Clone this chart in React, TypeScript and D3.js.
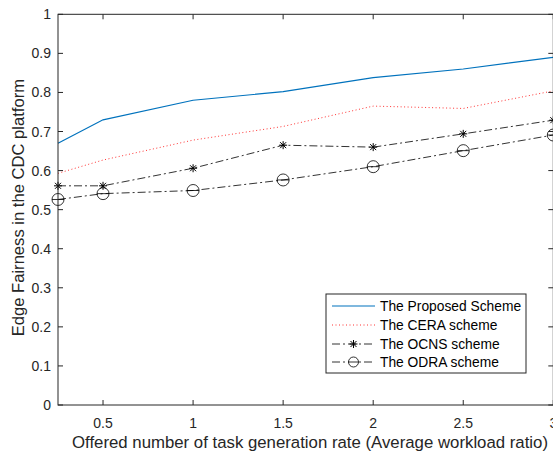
import React from "react";
import * as d3 from "d3";

const xs = [0.25, 0.5, 1, 1.5, 2, 2.5, 3];
const proposed = [0.67, 0.73, 0.78, 0.802, 0.838, 0.86, 0.89];
const cera = [0.593, 0.627, 0.678, 0.713, 0.765, 0.759, 0.804];
const ocns = [0.561, 0.561, 0.606, 0.665, 0.66, 0.694, 0.729];
const odra = [0.526, 0.541, 0.549, 0.576, 0.61, 0.651, 0.691];
const xTicks = [0.5, 1, 1.5, 2, 2.5, 3];
const yTicks = [0, 0.1, 0.2, 0.3, 0.4, 0.5, 0.6, 0.7, 0.8, 0.9, 1];
const legendNames = ["The Proposed Scheme", "The CERA scheme", "The OCNS scheme", "The ODRA scheme"];

const W = 553;
const H = 457;
const axisColor = "#262626";
const font = "'Liberation Sans', Arial, sans-serif";

const App = () => {
  const x = d3.scaleLinear().domain([0.25, 3]).range([58, 553.3]);
  const y = d3.scaleLinear().domain([0, 1]).range([405, 14.3]);
  const line = (vals: number[]) =>
    d3.line<number>().x((_, i) => x(xs[i])).y((d) => y(d))(vals) || "";

  const dashDot = "8,3,2,3";

  const star = (cx: number, cy: number, key: string) => (
    <g key={key} stroke="#000" strokeWidth={1}>
      <line x1={cx - 4} y1={cy} x2={cx + 4} y2={cy} />
      <line x1={cx} y1={cy - 4} x2={cx} y2={cy + 4} />
      <line x1={cx - 3} y1={cy - 3} x2={cx + 3} y2={cy + 3} />
      <line x1={cx - 3} y1={cy + 3} x2={cx + 3} y2={cy - 3} />
    </g>
  );

  const left = x.range()[0];
  const right = x.range()[1];
  const top = y.range()[1];
  const bottom = y.range()[0];

  // legend
  const lg = { x: 326, y: 294, w: 200, h: 79 };
  const rowY = [306, 325, 344, 362];

  return (
    <svg
      width={W}
      height={H}
      style={{ position: "absolute", left: 0, top: 0, background: "#fff" }}
      fontFamily={font}
    >
      <rect x={0} y={0} width={W} height={H} fill="#fff" />
      <rect x={left} y={top} width={right - left} height={bottom - top} fill="#fff" />

      {/* series */}
      <path d={line(proposed)} fill="none" stroke="#0072BD" strokeWidth={1.2} />
      <path d={line(cera)} fill="none" stroke="#FF3333" strokeWidth={1} strokeDasharray="1,2.5" />
      <path d={line(ocns)} fill="none" stroke="#333" strokeWidth={1} strokeDasharray={dashDot} />
      <path d={line(odra)} fill="none" stroke="#333" strokeWidth={1} strokeDasharray={dashDot} />
      {ocns.map((v, i) => star(x(xs[i]), y(v), "s" + i))}
      {odra.map((v, i) => (
        <g key={"o" + i}>
          <circle cx={x(xs[i])} cy={y(v)} r={6} fill="none" stroke="#000" strokeWidth={0.8} />
          <line x1={x(xs[i]) - 6} x2={x(xs[i]) + 6} y1={y(v)} y2={y(v)} stroke="#000" strokeWidth={0.8} />
        </g>
      ))}

      {/* axes box */}
      <rect x={left} y={top} width={right - left} height={bottom - top} fill="none" stroke={axisColor} strokeWidth={1} />
      {xTicks.map((t) => (
        <g key={"xt" + t}>
          <line x1={x(t)} x2={x(t)} y1={bottom} y2={bottom - 5} stroke={axisColor} />
          <line x1={x(t)} x2={x(t)} y1={top} y2={top + 5} stroke={axisColor} />
          <text x={x(t)} y={428} textAnchor="middle" fontSize={14} fill={axisColor}>
            {t}
          </text>
        </g>
      ))}
      {yTicks.map((t) => (
        <g key={"yt" + t}>
          <line x1={left} x2={left + 5} y1={y(t)} y2={y(t)} stroke={axisColor} />
          <line x1={right} x2={right - 5} y1={y(t)} y2={y(t)} stroke={axisColor} />
          <text x={51} y={y(t) + 5} textAnchor="end" fontSize={14} fill={axisColor}>
            {t}
          </text>
        </g>
      ))}

      <text x={310} y={448} textAnchor="middle" fontSize={16.8} fill={axisColor}>
        Offered number of task generation rate (Average workload ratio)
      </text>
      <text
        transform={`translate(24,${(top + bottom) / 2 - 2}) rotate(-90)`}
        textAnchor="middle"
        fontSize={16.6}
        fill={axisColor}
      >
        Edge Fairness in the CDC platform
      </text>

      {/* legend */}
      <rect x={lg.x} y={lg.y} width={lg.w} height={lg.h} fill="#fff" stroke={axisColor} strokeWidth={1} />
      {legendNames.map((name, i) => {
        const ly = rowY[i];
        const x1 = 332;
        const x2 = 375;
        const mid = (x1 + x2) / 2;
        return (
          <g key={name}>
            {i === 0 && <line x1={x1} x2={x2} y1={ly} y2={ly} stroke="#0072BD" strokeWidth={1.2} />}
            {i === 1 && <line x1={x1} x2={x2} y1={ly} y2={ly} stroke="#FF3333" strokeDasharray="1,2.5" />}
            {i >= 2 && <line x1={x1} x2={x2} y1={ly} y2={ly} stroke="#333" strokeDasharray={dashDot} />}
            {i === 2 && star(mid, ly, "ls")}
            {i === 3 && (
              <g>
                <circle cx={mid} cy={ly} r={5} fill="#fff" stroke="#000" strokeWidth={0.8} />
                <line x1={mid - 5} x2={mid + 5} y1={ly} y2={ly} stroke="#000" strokeWidth={0.8} />
              </g>
            )}
            <text x={380} y={ly + 5} fontSize={13.8} fill="#000">
              {name}
            </text>
          </g>
        );
      })}
    </svg>
  );
};

export default App;
